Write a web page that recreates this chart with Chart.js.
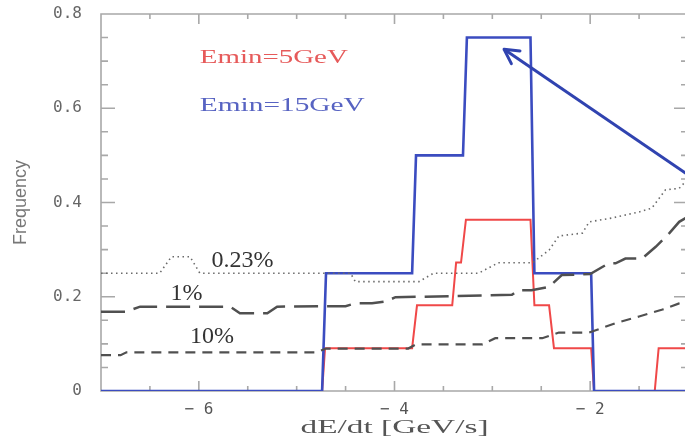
<!DOCTYPE html>
<html>
<head>
<meta charset="utf-8">
<script src="https://cdn.jsdelivr.net/npm/chart.js@4.4.1/dist/chart.umd.min.js"></script>
<style>
  html, body { margin: 0; padding: 0; background: #fff; overflow: hidden; }
  #wrap { width: 685px; height: 441px; overflow: hidden; }
</style>
</head>
<body>
<div id="wrap"><canvas id="dedt-chart" width="688" height="441"></canvas></div>
<script>
// Emin = 15 GeV histogram outline (corners, dE/dt in GeV/s)
const blueX = [-7, -4.74, -4.70, -3.82, -3.78, -3.30, -3.26, -2.61, -2.57, -1.99, -1.96, -1];
const blueY = [0, 0, 0.25, 0.25, 0.5, 0.5, 0.75, 0.75, 0.25, 0.25, 0, 0];

// Emin = 5 GeV histogram outline
const redX = [-7, -4.74, -4.71, -3.82, -3.77, -3.41, -3.37, -3.32, -3.27, -2.61, -2.57, -2.42, -2.37, -1.99, -1.96, -1.34, -1.30, -1];
const redY = [0, 0, 0.0909, 0.0909, 0.1818, 0.1818, 0.2727, 0.2727, 0.3636, 0.3636, 0.1818, 0.1818, 0.0909, 0.0909, 0, 0, 0.0909, 0.0909];

// background curves: 0.23%, 1%, 10%
const dotX = [-7, -6.40, -6.28, -6.09, -5.99, -4.45, -4.40, -3.75, -3.60, -3.14, -2.94, -2.59, -2.42, -2.32, -2.08, -2.01, -1.78, -1.50, -1.37, -1.23, -1.09, -1];
const dotY = [0.25, 0.25, 0.285, 0.285, 0.25, 0.25, 0.232, 0.232, 0.25, 0.25, 0.272, 0.272, 0.299, 0.329, 0.335, 0.359, 0.367, 0.380, 0.388, 0.427, 0.43, 0.45];

const longX = [-7, -6.75, -6.60, -5.68, -5.58, -5.30, -5.20, -4.50, -4.40, -4.23, -4.09, -3.99, -2.80, -2.73, -2.60, -2.42, -2.29, -2.00, -1.81, -1.74, -1.64, -1.47, -1.33, -1.19, -1.09, -1];
const longY = [0.168, 0.168, 0.179, 0.179, 0.165, 0.165, 0.179, 0.18, 0.186, 0.186, 0.19, 0.199, 0.204, 0.214, 0.214, 0.221, 0.246, 0.248, 0.271, 0.271, 0.281, 0.281, 0.306, 0.335, 0.359, 0.37];

const shortX = [-7, -6.80, -6.74, -4.80, -4.70, -3.86, -3.78, -3.10, -2.97, -2.49, -2.32, -2.01, -1.74, -1.50, -1.26, -1.09, -1];
const shortY = [0.076, 0.076, 0.082, 0.082, 0.090, 0.090, 0.099, 0.099, 0.112, 0.112, 0.124, 0.124, 0.144, 0.158, 0.173, 0.186, 0.19];

// pointer arrow, head first
const arrowX = [-2.88, -1];
const arrowY = [0.725, 0.459];

const toPoints = (xs, ys) => xs.map((x, i) => ({ x: x, y: ys[i] }));

const frameColor = '#a8a8a8';
const serif = '"Liberation Serif", "DejaVu Serif", serif';

// text drawn inside the plot, placed in data units
const notes = [
    { text: 'Emin=5GeV', x: -5.99, y: 0.696, color: '#e65a5a', size: 19, width: 148 },
    { text: 'Emin=15GeV', x: -5.99, y: 0.594, color: '#5763c2', size: 19, width: 165 },
    { text: '0.23%', x: -5.87, y: 0.264, color: '#333', size: 24 },
    { text: '1%', x: -6.29, y: 0.193, color: '#333', size: 24 },
    { text: '10%', x: -6.09, y: 0.102, color: '#333', size: 24 }
];

// stretched text, like the wide plotter lettering
function wideText(ctx, text, x, y, size, width, align) {
    ctx.save();
    ctx.font = size + 'px ' + serif;
    ctx.textBaseline = 'alphabetic';
    ctx.textAlign = 'left';
    const w = ctx.measureText(text).width;
    const sx = width ? width / w : 1;
    const left = align === 'center' ? x - (w * sx) / 2 : x;
    ctx.translate(left, y);
    ctx.scale(sx, 1);
    ctx.fillText(text, 0, 0);
    ctx.restore();
}

// frame with inward ticks on all four sides, slid underneath the curves
function drawFrame(chart) {
    const { ctx, chartArea: a, scales: { x, y } } = chart;
    ctx.save();
    ctx.globalCompositeOperation = 'destination-over';
    ctx.strokeStyle = frameColor;
    ctx.lineWidth = 1.6;
    ctx.beginPath();
    ctx.rect(a.left, a.top, a.right - a.left, a.bottom - a.top);
    for (let v = x.min; v <= x.max + 1e-9; v += 0.5) {
        const px = x.getPixelForValue(v);
        const len = Math.abs(v % 2) < 1e-9 ? 10 : 5;
        ctx.moveTo(px, a.bottom); ctx.lineTo(px, a.bottom - len);
        ctx.moveTo(px, a.top); ctx.lineTo(px, a.top + len);
    }
    for (let i = 0; i <= 16; i++) {
        const py = y.getPixelForValue(i * 0.05);
        const len = i % 4 === 0 ? 14 : 7;
        ctx.moveTo(a.left, py); ctx.lineTo(a.left + len, py);
        ctx.moveTo(a.right, py); ctx.lineTo(a.right - len, py);
    }
    ctx.stroke();
    ctx.restore();
}

const frameTicks = {
    id: 'frameTicks',
    afterDatasetsDraw(chart) {
        const { ctx, chartArea: a, scales: { x, y } } = chart;

        drawFrame(chart);

        // arrow head on the pointer line
        const meta = chart.getDatasetMeta(chart.data.datasets.findIndex(d => d.label === 'arrow'));
        const p0 = meta.data[0], p1 = meta.data[1];
        const ang = Math.atan2(p1.y - p0.y, p1.x - p0.x);
        ctx.save();
        ctx.strokeStyle = '#3043b0';
        ctx.lineWidth = 3;
        ctx.lineCap = 'round';
        ctx.beginPath();
        [-0.5, 0.5].forEach(d => {
            ctx.moveTo(p0.x, p0.y);
            ctx.lineTo(p0.x + 16 * Math.cos(ang + d), p0.y + 16 * Math.sin(ang + d));
        });
        ctx.stroke();
        ctx.restore();

        notes.forEach(n => {
            ctx.fillStyle = n.color;
            wideText(ctx, n.text, x.getPixelForValue(n.x), y.getPixelForValue(n.y), n.size, n.width);
        });

        ctx.fillStyle = '#555';
        wideText(ctx, 'dE/dt [GeV/s]', (a.left + a.right) / 2, a.bottom + 42, 19, 188, 'center');
    }
};

const ctx = document.getElementById('dedt-chart').getContext('2d');

new Chart(ctx, {
    type: 'line',
    data: {
        datasets: [
            {
                label: 'arrow',
                data: toPoints(arrowX, arrowY),
                borderColor: '#3043b0',
                borderWidth: 3,
                order: 0
            },
            {
                label: '0.23%',
                data: toPoints(dotX, dotY),
                borderColor: '#6a6a6a',
                borderWidth: 1.6,
                borderDash: [1.5, 3.5],
                order: 1
            },
            {
                label: '1%',
                data: toPoints(longX, longY),
                borderColor: '#505050',
                borderWidth: 2.5,
                borderDash: [24, 9],
                order: 1
            },
            {
                label: '10%',
                data: toPoints(shortX, shortY),
                borderColor: '#505050',
                borderWidth: 2.2,
                borderDash: [10, 7],
                order: 1
            },
            {
                label: 'Emin=15GeV',
                data: toPoints(blueX, blueY),
                borderColor: '#3b4cc0',
                borderWidth: 2.6,
                order: 2
            },
            {
                label: 'Emin=5GeV',
                data: toPoints(redX, redY),
                borderColor: '#f04848',
                borderWidth: 2,
                order: 3
            }
        ]
    },
    options: {
        responsive: false,
        animation: false,
        layout: { padding: { top: 14, right: 0, left: 0, bottom: 0 } },
        elements: {
            point: { radius: 0 },
            line: { tension: 0, fill: false, borderJoinStyle: 'miter' }
        },
        plugins: {
            legend: { display: false },
            tooltip: { enabled: false }
        },
        scales: {
            x: {
                type: 'linear',
                min: -7,
                max: -1,
                border: { display: false },
                grid: { display: false, drawTicks: false },
                ticks: {
                    stepSize: 1,
                    autoSkip: false,
                    maxRotation: 0,
                    padding: 9,
                    color: '#555',
                    font: { family: 'DejaVu Sans Mono', size: 16 },
                    callback: v => (v % 2 === 0 ? '\u2212 ' + Math.abs(v) : '')
                },
                afterFit: s => {
                    s.height = 50;
                    s.paddingLeft = 0;
                    s.paddingRight = 0;
                }
            },
            y: {
                min: 0,
                max: 0.8,
                border: { display: false },
                grid: { display: false, drawTicks: false },
                ticks: {
                    stepSize: 0.2,
                    padding: 19,
                    color: '#666',
                    font: { family: 'DejaVu Sans Mono', size: 16 },
                    callback: v => (v === 0 ? '0' : v.toFixed(1))
                },
                title: {
                    display: true,
                    text: 'Frequency',
                    color: '#777',
                    font: { family: 'Liberation Sans', size: 18 },
                    padding: { top: 10, bottom: 0 }
                },
                afterFit: s => {
                    s.width = 101;
                    s.paddingTop = 0;
                    s.paddingBottom = 0;
                }
            }
        }
    },
    plugins: [frameTicks]
});
</script>
</body>
</html>
